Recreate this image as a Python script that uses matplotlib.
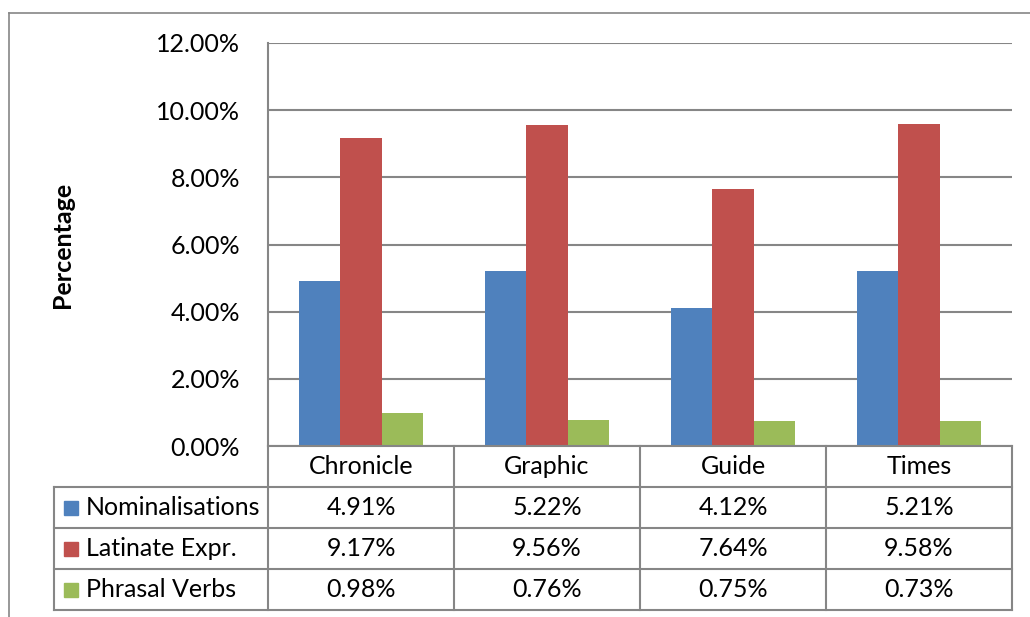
import numpy as np
import matplotlib.pyplot as plt
from matplotlib.lines import Line2D
from matplotlib.patches import Rectangle

plt.rcParams['font.family'] = ['Lato', 'DejaVu Sans']

categories = ['Chronicle', 'Graphic', 'Guide', 'Times']
series = ['Nominalisations', 'Latinate Expr.', 'Phrasal Verbs']
nominalisations = [4.91, 5.22, 4.12, 5.21]
latinate = [9.17, 9.56, 7.64, 9.58]
phrasal = [0.98, 0.76, 0.75, 0.73]
values = [nominalisations, latinate, phrasal]
colors = ['#4F81BD', '#C0504D', '#9BBB59']
grid_col = '#868686'
fs = 18

W, H = 1030, 617
fig = plt.figure(figsize=(W / 100, H / 100), dpi=100)

def box(x0, y0, x1, y1):
    return [x0 / W, 1 - y1 / H, (x1 - x0) / W, (y1 - y0) / H]

# outer chart frame (cut off at right and bottom)
fig.add_artist(Line2D([9 / W, 1.0], [1 - 13 / H, 1 - 13 / H], color=grid_col, lw=1.2))
fig.add_artist(Line2D([9 / W, 9 / W], [1 - 13 / H, 0], color=grid_col, lw=1.2))

# bar plot area
ax = fig.add_axes(box(268, 43, 1012, 446))
n = len(series)
bw = 1 / 4.5
x = np.arange(len(categories)) + 0.5
for i, (vals, c) in enumerate(zip(values, colors)):
    ax.bar(x + (i - 1) * bw, vals, width=bw, color=c, zorder=3)
ax.set_xlim(0, len(categories))
ax.set_ylim(0, 12)
ax.set_yticks(np.arange(0, 12.1, 2))
ax.set_yticklabels(['%.2f%%' % v for v in np.arange(0, 12.1, 2)], fontsize=fs)
ax.tick_params(axis='y', length=0, pad=20)
ax.set_xticks([])
ax.grid(axis='y', color=grid_col, lw=1.5, zorder=0)
for s in ['top', 'right', 'bottom']:
    ax.spines[s].set_visible(False)
ax.spines['left'].set_color(grid_col)
ax.spines['left'].set_linewidth(1.5)
fig.text(62 / W, 1 - 245 / H, 'Percentage', rotation=90, fontsize=fs,
         fontweight='bold', ha='center', va='center')

# data table
left_u = -214 / 186
tx = fig.add_axes(box(54, 446, 1012, 610))
tx.set_xlim(left_u, len(categories))
tx.set_ylim(n + 1, 0)
tx.axis('off')
lk = dict(color=grid_col, lw=1.5, clip_on=False)
tx.plot([0, len(categories)], [0, 0], **lk)
for r in range(1, n + 2):
    tx.plot([left_u, len(categories)], [r, r], **lk)
for cidx in range(len(categories) + 1):
    tx.plot([cidx, cidx], [0, n + 1], **lk)
tx.plot([left_u, left_u], [1, n + 1], **lk)
for j, cat in enumerate(categories):
    tx.text(j + 0.5, 0.5, cat, ha='center', va='center', fontsize=fs)
for i, (name, vals, c) in enumerate(zip(series, values, colors)):
    r = i + 1.5
    sq_w, sq_h = 14 / 186, 14 / 41
    tx.add_patch(Rectangle((left_u + 10 / 186, r - sq_h / 2), sq_w, sq_h, color=c))
    tx.text(left_u + 32 / 186, r, name, ha='left', va='center', fontsize=fs)
    for j, v in enumerate(vals):
        tx.text(j + 0.5, r, '%.2f%%' % v, ha='center', va='center', fontsize=fs)

fig.savefig('out.png', dpi=100)
